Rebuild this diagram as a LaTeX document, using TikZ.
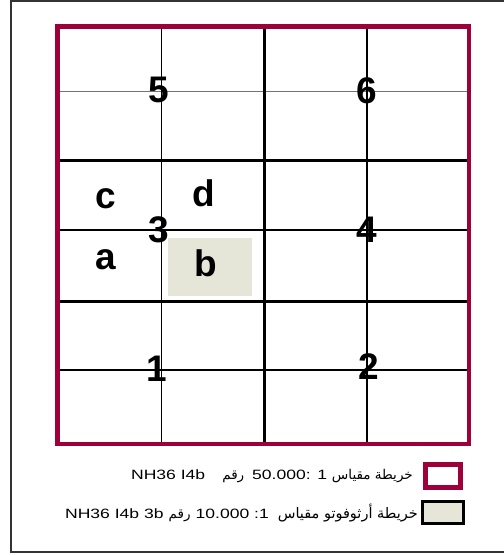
\documentclass[tikz,border=0pt]{standalone}
\usepackage{fontspec}
\setmainfont{Liberation Sans}
\newfontfamily\legendfont[FakeStretch=1.3]{Liberation Sans}
\newfontfamily\arabicfont[Script=Arabic]{DejaVu Sans}
\TeXXeTstate=1
\usetikzlibrary{positioning}
\definecolor{mapred}{RGB}{158,0,58}
\definecolor{orthobeige}{RGB}{230,230,216}

\begin{document}
\begin{tikzpicture}[x=1pt,y=-1pt,
  sheetframe/.style={line width=4.5pt,mapred},
  majorline/.style={line width=3pt,black},
  minorline/.style={line width=1.4pt,black},
  tilelabel/.style={inner sep=0pt,font=\fontsize{37}{37}\selectfont\bfseries},
  legendtext/.style={inner sep=0pt,anchor=east,font=\legendfont\fontsize{13.5}{14}\selectfont}]
\useasboundingbox (0,0) rectangle (504,555);
\draw[line width=2pt,black!80] (504,1) -- (11,1) -- (11,552) -- (504,552);

% ortho photo tile 3b
\fill[orthobeige] (168,238) rectangle (252,296);

% grid of the 1:50.000 sheet
\foreach \y/\c in {91.7/black!55,230/black,370/black}
  \draw[minorline,\c] (57.5,\y) -- (469,\y);
\foreach \x in {161.5,367}
  \draw[minorline] (\x,26.5) -- (\x,444);
\foreach \y in {160.7,301.5}
  \draw[majorline] (57.5,\y) -- (469,\y);
\draw[majorline] (264,26.5) -- (264,444);
\draw[sheetframe] (57.5,26.5) rectangle (469,444);

% sheet numbers
\node[tilelabel] (n5) at (159,90) {5};
\node[tilelabel] (n6) at (367,91) {6};
\node[tilelabel] (n3) at (158.5,229.5) {3};
\node[tilelabel] (n4) at (367,230) {4};
\node[tilelabel] (n1) at (157,369) {1};
\node[tilelabel] (n2) at (369,367) {2};
\node[tilelabel] (qc) at (106,198.5) {c};
\node[tilelabel] (qd) at (204,193.5) {d};
\node[tilelabel] (qa) at (106,260) {a};
\node[tilelabel] (qb) at (206,263) {b};

% legend
\node[draw=mapred,line width=4.5pt,minimum width=35pt,minimum height=23pt,inner sep=0pt] (keysheet) at (443,476) {};
\node[draw=black,fill=orthobeige,line width=3pt,minimum width=41pt,minimum height=22pt,inner sep=0pt] (keyortho) at (443,512.5) {};
\node[legendtext] (txtsheet) at (413,476)
  {NH36 I4b\hspace{17pt}{\arabicfont\beginR رقم\endR}\hspace{8pt}50.000: 1 {\arabicfont\beginR خريطة مقياس\endR}};
\node[legendtext] (txtortho) at (418,513)
  {NH36 I4b 3b\hspace{5pt}{\arabicfont\beginR رقم\endR}\hspace{5pt}10.000 :1\hspace{9pt}{\arabicfont\fontsize{14.5}{15}\selectfont\beginR خريطة أرثوفوتو مقياس\endR}};
\end{tikzpicture}
\end{document}
